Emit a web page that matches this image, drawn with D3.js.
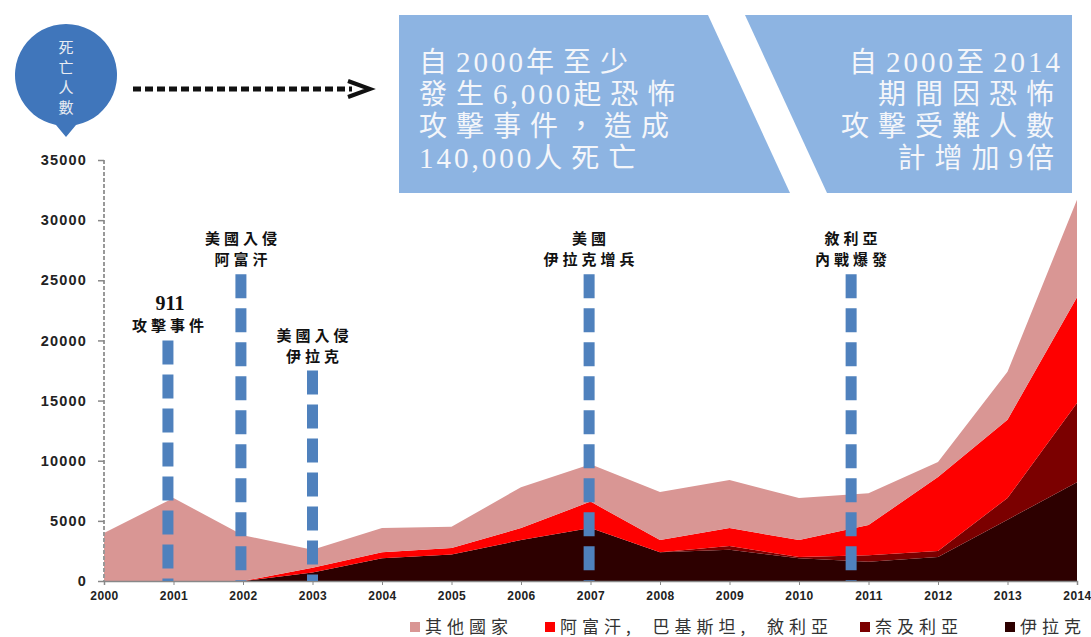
<!DOCTYPE html>
<html>
<head>
<meta charset="utf-8">
<script src="https://cdn.jsdelivr.net/npm/d3@7/dist/d3.min.js"></script>
<style>
  body { margin: 0; background: #fff; }
  svg { display: block; }
</style>
</head>
<body>
<svg id="chart" width="1091" height="637"></svg>
<script>
  // deaths by year
  var years    = [2000,2001,2002,2003,2004,2005,2006,2007,2008,2009,2010,2011,2012,2013,2014];
  var iraq     = [0,0,0,700,1900,2200,3400,4400,2400,2600,1900,1600,2000,5100,8200];
  var nigeria  = [0,0,0,0,0,0,0,0,0,300,100,550,500,1800,6600];
  var afPakSyr = [0,0,0,400,500,550,1000,2200,1000,1500,1400,2500,6150,6500,8800];
  var others   = [4000,6900,3800,1500,2000,1750,3400,3100,4000,4000,3500,2650,1250,4000,8100];

  var seriesKeys   = ["iraq", "nigeria", "afPakSyr", "others"];
  var seriesNames  = { others: "其他國家", afPakSyr: "阿富汗, 巴基斯坦, 敘利亞", nigeria: "奈及利亞", iraq: "伊拉克" };
  var seriesColors = { others: "#d99694", afPakSyr: "#fe0000", nigeria: "#7b0000", iraq: "#2d0000" };
  var legendOrder  = ["others", "afPakSyr", "nigeria", "iraq"];

  var yTicks = [0,5000,10000,15000,20000,25000,30000,35000];

  // events: position in years, top of dashed line in deaths
  var eventYears  = [2000.92, 2001.97, 2003.0, 2006.98, 2010.75];
  var eventTops   = [20000, 25500, 17500, 25500, 25500];
  var eventLabels = [["911","攻擊事件"], ["美國入侵","阿富汗"], ["美國入侵","伊拉克"], ["美國","伊拉克增兵"], ["敘利亞","內戰爆發"]];

  var box1Lines = ["自2000年至少", "發生6,000起恐怖", "攻擊事件，造成", "140,000人死亡"];
  var box2Lines = ["自2000至2014", "期間因恐怖", "攻擊受難人數", "計增加9倍"];
  var bubbleText = ["死", "亡", "人", "數"];

  var svg = d3.select("#chart");
  var cjk = "'Noto Sans CJK TC', 'Noto Sans CJK SC', sans-serif";
  var serifCjk = "'Liberation Serif', 'Noto Sans CJK TC', serif";

  var x = d3.scaleLinear().domain([2000, 2014]).range([104, 1077]);
  var y = d3.scaleLinear().domain([0, 35000]).range([581, 160]);

  var rows = years.map(function (yr, i) {
    return { year: yr, iraq: iraq[i], nigeria: nigeria[i], afPakSyr: afPakSyr[i], others: others[i] };
  });
  var stacked = d3.stack().keys(seriesKeys)(rows);

  var area = d3.area()
    .x(function (d) { return x(d.data.year); })
    .y0(function (d) { return y(d[0]); })
    .y1(function (d) { return y(d[1]); });

  svg.append("g").selectAll("path")
    .data(stacked)
    .enter().append("path")
    .attr("d", area)
    .attr("fill", function (d) { return seriesColors[d.key]; });

  // y axis (dashed line with small ticks)
  var yAxis = svg.append("g")
    .attr("transform", "translate(104,0)")
    .call(d3.axisLeft(y).tickValues(yTicks).tickSize(6).tickPadding(11).tickFormat(d3.format("d")));
  yAxis.select(".domain").attr("stroke", "#999").attr("stroke-width", 2).attr("stroke-dasharray", "4,2").attr("d", "M0,160V581");
  yAxis.selectAll(".tick line").attr("stroke", "#888").attr("stroke-width", 1.5);
  yAxis.selectAll(".tick text")
    .attr("font-family", "'Liberation Sans', Arial, sans-serif")
    .attr("font-weight", "bold").attr("font-size", 14.5).attr("letter-spacing", 1.2).attr("fill", "#222");

  // x axis
  var xAxis = svg.append("g")
    .attr("transform", "translate(0,581)")
    .call(d3.axisBottom(x).tickValues(years).tickSize(4).tickPadding(6).tickFormat(d3.format("d")));
  xAxis.select(".domain").attr("stroke", "#888").attr("stroke-width", 1.5);
  xAxis.selectAll(".tick line").attr("stroke", "#888");
  xAxis.selectAll(".tick text")
    .attr("font-family", "'Liberation Sans', Arial, sans-serif")
    .attr("font-weight", "bold").attr("font-size", 12).attr("letter-spacing", 0.4).attr("fill", "#222");

  // event dashed lines and labels
  var ev = svg.append("g").selectAll("g")
    .data(eventYears)
    .enter().append("g");

  ev.append("line")
    .attr("x1", function (d) { return x(d); })
    .attr("x2", function (d) { return x(d); })
    .attr("y1", function (d, i) { return y(eventTops[i]); })
    .attr("y2", y(0))
    .attr("stroke", "#4f81bd")
    .attr("stroke-width", 11)
    .attr("stroke-dasharray", "24,10");

  ev.each(function (d, i) {
    var g = d3.select(this);
    var top = y(eventTops[i]);
    var lab = eventLabels[i];
    g.append("text")
      .attr("x", x(d) + 2).attr("y", top - 30)
      .attr("text-anchor", "middle")
      .attr("font-family", i == 0 ? "'Liberation Serif', serif" : cjk)
      .attr("font-weight", "bold")
      .attr("font-size", i == 0 ? 20 : 15)
      .attr("letter-spacing", i == 0 ? 0 : 4)
      .attr("fill", "#111")
      .text(lab[0]);
    g.append("text")
      .attr("x", x(d) + 2).attr("y", top - 9)
      .attr("text-anchor", "middle")
      .attr("font-family", cjk)
      .attr("font-weight", "bold")
      .attr("font-size", 15)
      .attr("letter-spacing", 4)
      .attr("fill", "#111")
      .text(lab[1]);
  });

  // top info boxes
  svg.append("path")
    .attr("d", "M399,15L708,15L790,193L399,193Z")
    .attr("fill", "#8db4e2");
  svg.append("path")
    .attr("d", "M745,15L1072,15L1072,193L827,193Z")
    .attr("fill", "#8db4e2");

  // digits spaced tighter than the Chinese characters
  function fillRuns (sel) {
    sel.each(function (d) {
      var t = d3.select(this);
      d.split(/([0-9,]+)/).forEach(function (part) {
        if (part == "") return;
        var isNum = /^[0-9,]+$/.test(part);
        t.append("tspan")
          .attr("letter-spacing", isNum ? 3 : 9)
          .attr("font-size", isNum ? 29 : 28)
          .text(part);
      });
    });
  }

  svg.append("g").selectAll("text")
    .data(box1Lines)
    .enter().append("text")
    .attr("x", 419)
    .attr("y", function (d, i) { return 72 + i * 32; })
    .attr("font-family", serifCjk)
    .attr("fill", "#f4f6fa")
    .call(fillRuns);

  svg.append("g").selectAll("text")
    .data(box2Lines)
    .enter().append("text")
    .attr("x", 1063)
    .attr("y", function (d, i) { return 72 + i * 32; })
    .attr("text-anchor", "end")
    .attr("font-family", serifCjk)
    .attr("fill", "#f4f6fa")
    .call(fillRuns);

  // bubble
  svg.append("path")
    .attr("d", "M56,125A51,51 0 1 1 76,125L66,137Z")
    .attr("fill", "#4076bb");
  svg.append("g").selectAll("text")
    .data(bubbleText)
    .enter().append("text")
    .attr("x", 66)
    .attr("y", function (d, i) { return 53 + i * 20; })
    .attr("text-anchor", "middle")
    .attr("font-family", cjk)
    .attr("font-size", 15)
    .attr("fill", "#e8ecf2")
    .text(function (d) { return d; });

  // dotted arrow
  svg.append("line")
    .attr("x1", 133).attr("x2", 352).attr("y1", 89).attr("y2", 89)
    .attr("stroke", "#111").attr("stroke-width", 5).attr("stroke-dasharray", "8,4");
  svg.append("path")
    .attr("d", "M348,81L370,89L348,97")
    .attr("fill", "none").attr("stroke", "#111").attr("stroke-width", 4);

  // legend
  var legendX = [410, 545, 860, 1005];
  var leg = svg.append("g").selectAll("g")
    .data(legendOrder)
    .enter().append("g")
    .attr("transform", function (d, i) { return "translate(" + legendX[i] + ",627)"; });
  leg.append("rect")
    .attr("x", 0).attr("y", -5).attr("width", 10).attr("height", 10)
    .attr("fill", function (d) { return seriesColors[d]; });
  leg.append("text")
    .attr("x", 15).attr("y", 6)
    .attr("font-family", cjk)
    .attr("font-size", 17)
    .attr("letter-spacing", 5)
    .attr("word-spacing", 8)
    .attr("fill", "#333")
    .text(function (d) { return seriesNames[d]; });
</script>
</body>
</html>
